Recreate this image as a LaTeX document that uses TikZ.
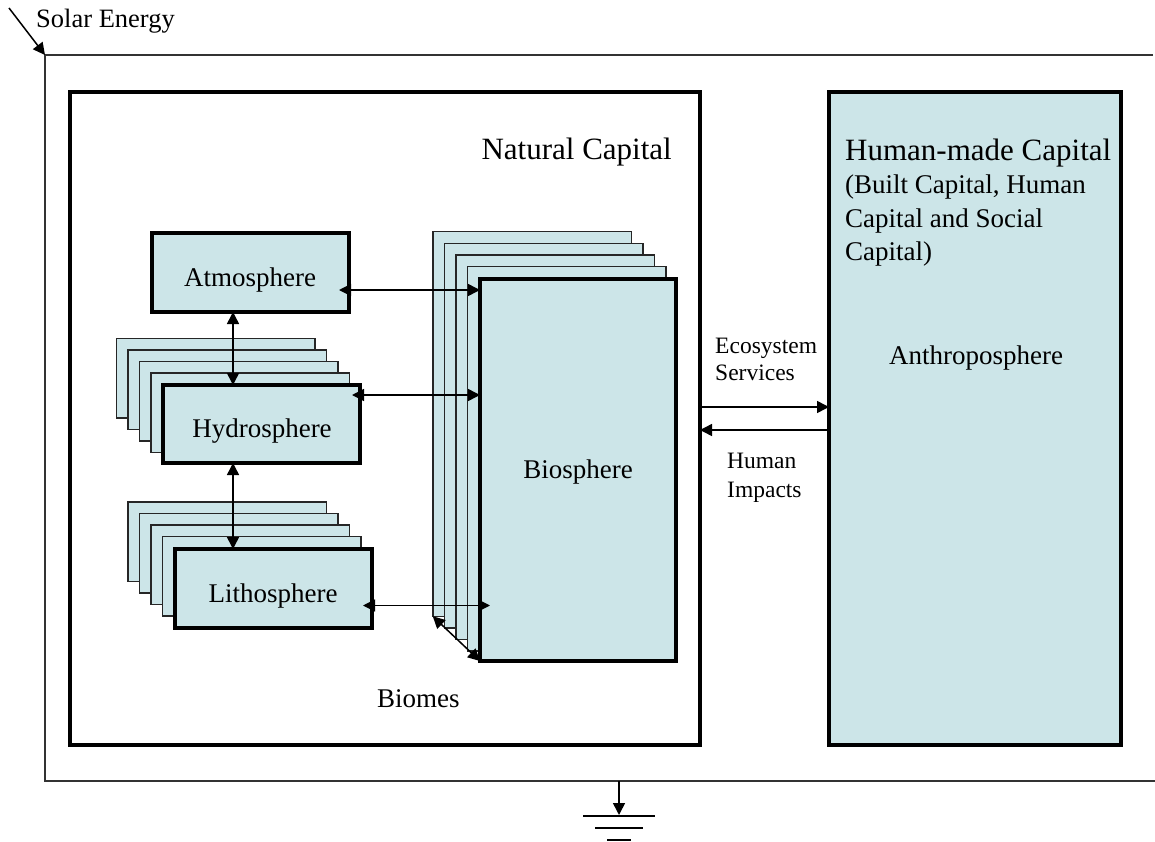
\documentclass[tikz,border=0pt]{standalone}
\usepackage{fontspec}
\setmainfont{Liberation Serif}
\usetikzlibrary{arrows.meta}
\definecolor{boxfill}{RGB}{204,229,232}
\tikzset{
  thickbox/.style={draw=black, line width=4pt, fill=boxfill, inner sep=0pt, outer sep=0pt, minimum width=#1},
  backbox/.style={draw=black!85, line width=1.5pt, fill=boxfill, inner sep=0pt, outer sep=0pt, minimum width=198.5pt},
  frame/.style={draw=black!80, line width=1.5pt},
  conn/.style={draw=black, line width=1.5pt},
  dbl/.style={conn, {Triangle[length=12pt,width=12pt]}-{Triangle[length=12pt,width=12pt]}},
  one/.style={conn, -{Triangle[length=12pt,width=12pt]}},
  txtL/.style={inner sep=0pt, font=\fontsize{27}{33}\selectfont},
  txtB/.style={inner sep=0pt, font=\fontsize{31}{36}\selectfont},
  txtS/.style={inner sep=0pt, font=\fontsize{23.5}{28}\selectfont},
}
\begin{document}
\begin{tikzpicture}[x=1pt,y=-1pt]
\useasboundingbox (0,0) rectangle (1155,842);
% outer frame
\coordinate (ftr) at (1153,55);
\coordinate (ftl) at (45,55);
\coordinate (fbl) at (45,781);
\coordinate (fbr) at (1155,781);
\draw[frame] (ftr) -- (ftl) -- (fbl) -- (fbr);
\coordinate (sun) at (9,8);
\draw[one] (sun) -- (ftl);
\node[txtL, anchor=base west, font=\fontsize{26.5}{30}\selectfont] (solar) at (36,28) {Solar Energy};

% natural capital and human-made capital boxes
\node[thickbox=630pt, fill=white, minimum height=653pt] (nc) at (385,418.5) {};
\node[thickbox=292pt, minimum height=653pt] (hm) at (975,418.5) {};
\node[txtB, anchor=base east] (nctxt) at (672,160) {Natural Capital};
\node[txtB, anchor=base west] (hmtxt) at (845,161) {Human-made Capital};
\node[txtL, anchor=base west] (hm1) at (845,194) {(Built Capital, Human};
\node[txtL, anchor=base west] (hm2) at (845,227) {Capital and Social};
\node[txtL, anchor=base west] (hm3) at (845,260) {Capital)};
\node[txtL, anchor=base] (anth) at (976,364) {Anthroposphere};

% biosphere stack
\node[backbox, minimum height=384.5pt] (bb1) at (532,424) {};
\node[backbox, minimum height=384.5pt] (bb2) at (543.5,435.5) {};
\node[backbox, minimum height=384.5pt] (bb3) at (555,447) {};
\node[backbox, minimum height=384.5pt] (bb4) at (566.5,458.5) {};
\node[thickbox=196pt, minimum height=382pt] (bio) at (578,470) {};
\node[txtL, anchor=base] (biotxt) at (578,478) {Biosphere};

% atmosphere
\node[thickbox=197pt, minimum height=79pt] (atmo) at (250.5,272.5) {};
\node[txtL, anchor=base] (atmotxt) at (250,286) {Atmosphere};

% hydrosphere stack
\node[backbox, minimum height=79.5pt] (hb1) at (215.5,378) {};
\node[backbox, minimum height=79.5pt] (hb2) at (227,389.5) {};
\node[backbox, minimum height=79.5pt] (hb3) at (238.5,401) {};
\node[backbox, minimum height=79.5pt] (hb4) at (250,412.5) {};
\node[thickbox=197pt, minimum height=78pt] (hydro) at (261.5,424) {};
\node[txtL, anchor=base] (hydrotxt) at (262,437) {Hydrosphere};

% lithosphere stack
\node[backbox, minimum height=79.5pt] (lb1) at (227,541.5) {};
\node[backbox, minimum height=79.5pt] (lb2) at (238.5,553) {};
\node[backbox, minimum height=79.5pt] (lb3) at (250,564.5) {};
\node[backbox, minimum height=79.5pt] (lb4) at (261.5,576) {};
\node[thickbox=197pt, minimum height=79pt] (litho) at (273.5,588.5) {};
\node[txtL, anchor=base] (lithotxt) at (273,602) {Lithosphere};

\node[txtL, anchor=base west] (biomes) at (377,707) {Biomes};

% connectors
\draw[dbl] ([xshift=-10pt,yshift=-17.5pt]atmo.east) -- ([yshift=-17.5pt]atmo.east -| bio.west);
\draw[dbl] ([xshift=-8pt,yshift=29pt]hydro.east) -- ([yshift=29pt]hydro.east -| bio.west);
\draw[dbl] ([xshift=-9pt,yshift=-17pt]litho.east) -- ([xshift=10pt,yshift=-17pt]litho.east -| bio.west);
\draw[dbl] ([xshift=-17.5pt]atmo.south) -- ([xshift=-17.5pt]atmo.south |- hydro.north);
\draw[dbl] ([xshift=-28.5pt]hydro.south) -- ([xshift=-28.5pt]hydro.south |- litho.north);
\draw[dbl] (bb1.south west) -- (bio.south west);

\draw[one] ([yshift=11.5pt]nc.east) -- ([yshift=11.5pt]nc.east -| hm.west);
\draw[one] ([yshift=-11.5pt]hm.west) -- ([yshift=-11.5pt]hm.west -| nc.east);
\node[txtS, anchor=base west] (eco1) at (715,353) {Ecosystem};
\node[txtS, anchor=base west] (eco2) at (715,380) {Services};
\node[txtS, anchor=base west] (hi1) at (727,468) {Human};
\node[txtS, anchor=base west] (hi2) at (727,497) {Impacts};

% ground
\coordinate (gtop) at (619,781);
\coordinate (gbot) at (619,815);
\draw[one] (gtop) -- (gbot);
\coordinate (g1l) at (583,816); \coordinate (g1r) at (655,816);
\coordinate (g2l) at (595,828); \coordinate (g2r) at (643,828);
\coordinate (g3l) at (607,840); \coordinate (g3r) at (631,840);
\draw[conn] (g1l) -- (g1r);
\draw[conn] (g2l) -- (g2r);
\draw[conn] (g3l) -- (g3r);
\end{tikzpicture}
\end{document}
